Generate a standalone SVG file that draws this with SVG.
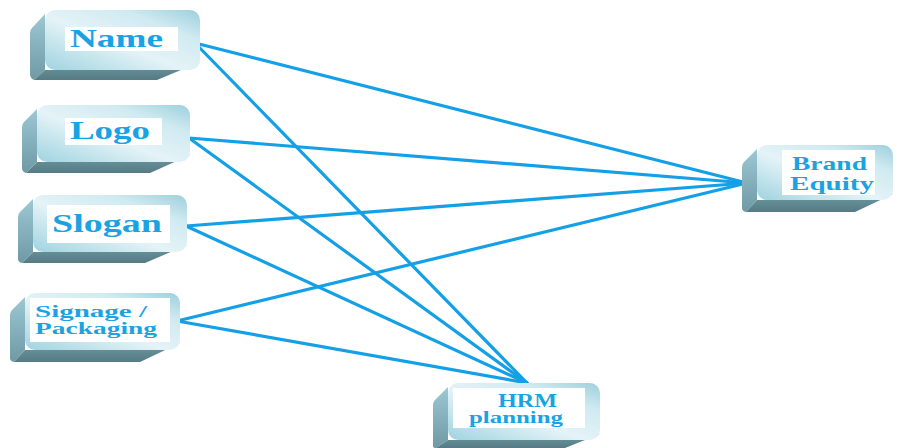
<svg xmlns="http://www.w3.org/2000/svg" width="899" height="448" viewBox="0 0 899 448">
<defs>
<linearGradient id="face" x1="0" y1="1" x2="1" y2="0">
<stop offset="0" stop-color="#9fd3e0"/>
<stop offset="0.45" stop-color="#e4f3f7"/>
<stop offset="0.75" stop-color="#d0eaf1"/>
<stop offset="1" stop-color="#9ccfdc"/>
</linearGradient>
<linearGradient id="side" x1="0" y1="0" x2="0" y2="1">
<stop offset="0" stop-color="#9cc8d3"/>
<stop offset="1" stop-color="#6f9aa5"/>
</linearGradient>
<linearGradient id="bottom" x1="0" y1="0" x2="0" y2="1">
<stop offset="0" stop-color="#6e99a3"/>
<stop offset="1" stop-color="#557b84"/>
</linearGradient>
<style>
.face{fill:url(#face);}
.side{fill:url(#side);}
.bot{fill:url(#bottom);}
.lbl{fill:#ffffff;}
.t{font-family:"Liberation Serif","DejaVu Serif",serif;font-weight:bold;fill:#1ba2e3;}
.c line{stroke:#14a0e6;stroke-width:3.2;stroke-linecap:round;}
</style>
</defs>

<g class="c" id="connectors">
<line x1="195" y1="43" x2="747" y2="183"/>
<line x1="195" y1="43" x2="527" y2="383"/>
<line x1="189" y1="138" x2="747" y2="183"/>
<line x1="189" y1="138" x2="527" y2="383"/>
<line x1="186" y1="226" x2="747" y2="183"/>
<line x1="186" y1="226" x2="527" y2="383"/>
<line x1="177" y1="321" x2="747" y2="183"/>
<line x1="177" y1="321" x2="527" y2="383"/>
</g>

<g id="name">
<path class="side" d="M45,14 L32,28 Q30,30 30,33 L30,74 Q30,78 34,80 L45,70 Z"/>
<path class="bot" d="M34,80 L157,80 L200,62 L200,62 L55,70 L45,70 Z"/>
<rect class="face" x="45" y="10" width="155" height="60" rx="10"/>
<rect class="lbl" x="65" y="27" width="113" height="24"/>
<text class="t" x="70" y="47" font-size="25" textLength="93" lengthAdjust="spacingAndGlyphs">Name</text>
</g>

<g id="logo">
<path class="side" d="M37,109 L24,122 Q22,124 22,127 L22,168 Q22,172 26,173 L37,162 Z"/>
<path class="bot" d="M26,173 L150,173 L190,155 L47,162 L37,162 Z"/>
<rect class="face" x="37" y="105" width="153" height="57" rx="10"/>
<rect class="lbl" x="65" y="118" width="97" height="27"/>
<text class="t" x="70" y="139" font-size="25" textLength="80" lengthAdjust="spacingAndGlyphs">Logo</text>
</g>

<g id="slogan">
<path class="side" d="M33,199 L20,212 Q18,214 18,217 L18,259 Q18,262 22,263 L33,252 Z"/>
<path class="bot" d="M22,263 L145,263 L187,245 L43,252 L33,252 Z"/>
<rect class="face" x="33" y="195" width="154" height="57" rx="10"/>
<rect class="lbl" x="47" y="205" width="123" height="38"/>
<text class="t" x="52" y="232" font-size="26" textLength="110" lengthAdjust="spacingAndGlyphs">Slogan</text>
</g>

<g id="signage">
<path class="side" d="M25,297 L12,310 Q10,312 10,315 L10,358 Q10,361 14,362 L25,350 Z"/>
<path class="bot" d="M14,362 L140,362 L180,343 L35,350 L25,350 Z"/>
<rect class="face" x="25" y="293" width="155" height="57" rx="10"/>
<rect class="lbl" x="30" y="298" width="140" height="44"/>
<text class="t" x="35" y="317" font-size="17" textLength="112" lengthAdjust="spacingAndGlyphs">Signage /</text>
<text class="t" x="35" y="334" font-size="17" textLength="122" lengthAdjust="spacingAndGlyphs">Packaging</text>
</g>

<g id="brand">
<path class="side" d="M757,149 L744,162 Q742,164 742,167 L742,208 Q742,211 746,212 L757,200 Z"/>
<path class="bot" d="M746,212 L855,212 L893,194 L767,200 L757,200 Z"/>
<rect class="face" x="757" y="145" width="136" height="55" rx="10"/>
<rect class="lbl" x="782" y="150" width="93" height="45"/>
<text class="t" x="792" y="170" font-size="19" textLength="75" lengthAdjust="spacingAndGlyphs">Brand</text>
<text class="t" x="790" y="190" font-size="19" textLength="84" lengthAdjust="spacingAndGlyphs">Equity</text>
</g>

<g id="hrm">
<path class="side" d="M448,387 L435,400 Q433,402 433,405 L433,446 Q433,448 436,448 L448,440 Z"/>
<path class="bot" d="M436,448 L565,448 L600,434 L458,440 L448,440 Z"/>
<rect class="face" x="448" y="383" width="152" height="57" rx="10"/>
<rect class="lbl" x="453" y="388" width="132" height="40"/>
<text class="t" x="498" y="407" font-size="18" textLength="59" lengthAdjust="spacingAndGlyphs">HRM</text>
<text class="t" x="469" y="423" font-size="17" textLength="94" lengthAdjust="spacingAndGlyphs">planning</text>
</g>
</svg>
